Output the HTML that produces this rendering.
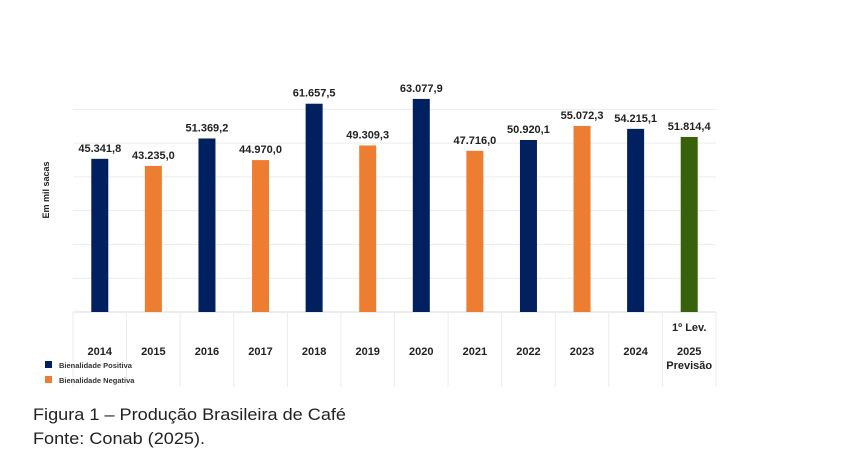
<!DOCTYPE html>
<html><head><meta charset="utf-8"><style>
body{margin:0;background:#fff;width:841px;height:459px;overflow:hidden}
svg{display:block;font-family:"Liberation Sans",Arial,sans-serif}
</style></head><body>
<svg id="chart" width="841" height="459" viewBox="0 0 841 459">
<g id="grid"></g>
<g id="table"></g>
<g id="bars"></g>
<g id="labels"></g>
<g id="xlabels"></g>
<text transform="translate(49,190) rotate(-90)" text-anchor="middle" font-size="9" font-weight="bold" fill="#222">Em mil sacas</text>
<g>
<rect x="45" y="361" width="7" height="7" fill="#002060"/>
<text x="59" y="368" font-size="7.5" font-weight="bold" fill="#333">Bienalidade Positiva</text>
<rect x="45" y="376" width="7" height="7" fill="#ED7D31"/>
<text x="59" y="383" font-size="7.5" font-weight="bold" fill="#333">Bienalidade Negativa</text>
</g>
<text x="33" y="420" font-size="17" fill="#222" textLength="313" lengthAdjust="spacingAndGlyphs">Figura 1 – Produção Brasileira de Café</text>
<text x="33" y="444" font-size="17" fill="#222" textLength="172" lengthAdjust="spacingAndGlyphs">Fonte: Conab (2025).</text>
</svg>
<script>
const categories=["2014","2015","2016","2017","2018","2019","2020","2021","2022","2023","2024","2025"];
const values=[45341.8,43235.0,51369.2,44970.0,61657.5,49309.3,63077.9,47716.0,50920.1,55072.3,54215.1,51814.4];
const valueLabels=["45.341,8","43.235,0","51.369,2","44.970,0","61.657,5","49.309,3","63.077,9","47.716,0","50.920,1","55.072,3","54.215,1","51.814,4"];
const types=["pos","neg","pos","neg","pos","neg","pos","neg","pos","neg","pos","prev"];
const gridValues=[0,10000,20000,30000,40000,50000,60000];
const NS="http://www.w3.org/2000/svg";
const X0=73,X1=716,BASE=312,PX=0.003378;
const colW=(X1-X0)/categories.length;
const xc=i=>X0+colW*(i+0.5);
const y=v=>BASE-v*PX;
const colors={pos:"#002060",neg:"#ED7D31",prev:"#38610B"};
function mk(tag,attrs,parent){const e=document.createElementNS(NS,tag);for(const k in attrs)e.setAttribute(k,attrs[k]);document.getElementById(parent).appendChild(e);return e;}
gridValues.forEach(g=>{
 const l=mk("line",{x1:X0,x2:X1,y1:y(g),y2:y(g),stroke:g===0?"#d9d9d9":"#ececec","stroke-width":1},"grid");
 
 
});
for(let i=0;i<=categories.length;i++){
 const l=mk("line",{x1:X0+colW*i,x2:X0+colW*i,y1:BASE,y2:387,stroke:"#ececec","stroke-width":1},"table");
 
 
}
categories.forEach((c,i)=>{
 const v=values[i];
 const r=mk("rect",{x:xc(i)-8.5,y:y(v),width:17,height:BASE-y(v),fill:colors[types[i]]},"bars");
 
 
 const t=mk("text",{x:xc(i),y:y(v)-7,"text-anchor":"middle","font-size":"11","font-weight":"bold",fill:"#222"},"labels");
 t.textContent=valueLabels[i];
 
 
 const xl=mk("text",{x:xc(i),y:355,"text-anchor":"middle","font-size":"11","font-weight":"bold",fill:"#222"},"xlabels");
 xl.textContent=c;
 
 
});
const last=categories.length-1;
const a=mk("text",{x:xc(last),y:331,"text-anchor":"middle","font-size":"11","font-weight":"bold",fill:"#222"},"xlabels");
a.textContent="1º Lev.";


const b=mk("text",{x:xc(last),y:369,"text-anchor":"middle","font-size":"11","font-weight":"bold",fill:"#222"},"xlabels");
b.textContent="Previsão";


</script>
</body></html>
